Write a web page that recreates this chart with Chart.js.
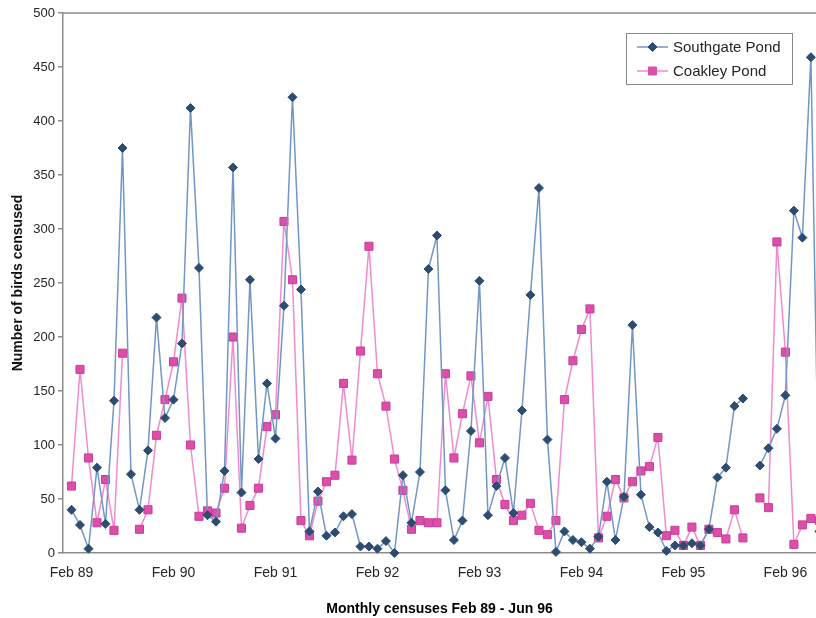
<!DOCTYPE html>
<html>
<head>
<meta charset="utf-8">
<title>Monthly censuses Feb 89 - Jun 96</title>
<script src="https://cdn.jsdelivr.net/npm/chart.js@4.4.0/dist/chart.umd.min.js"></script>
<style>
  html, body { margin: 0; padding: 0; background: #fff; overflow: hidden; }
  #wrap { width: 816px; height: 618px; position: relative; }
</style>
</head>
<body>
<div id="wrap"><canvas id="birdChart"></canvas></div>
<script>
// monthly counts, Feb 89 .. Jun 96 (index 0 = Feb 89), null = no census
const southgate = [
  40, 26, 4, 79, 27, 141, 375, 73, 40, 95, 218, 125,      // Feb 89 - Jan 90
  142, 194, 412, 264, 35, 29, 76, 357, 56, 253, 87, 157,  // Feb 90 - Jan 91
  106, 229, 422, 244, 20, 57, 16, 19, 34, 36, 6, 6,       // Feb 91 - Jan 92
  4, 11, 0, 72, 28, 75, 263, 294, 58, 12, 30, 113,        // Feb 92 - Jan 93
  252, 35, 62, 88, 37, 132, 239, 338, 105, 1, 20, 12,     // Feb 93 - Jan 94
  10, 4, 15, 66, 12, 52, 211, 54, 24, 19, 2, 7,           // Feb 94 - Jan 95
  7, 9, 7, 22, 70, 79, 136, 143, null, 81, 97, 115,       // Feb 95 - Jan 96
  146, 317, 292, 459, 20                                  // Feb 96 - Jun 96
];
const coakley = [
  62, 170, 88, 28, 68, 21, 185, null, 22, 40, 109, 142,
  177, 236, 100, 34, 39, 37, 60, 200, 23, 44, 60, 117,
  128, 307, 253, 30, 16, 48, 66, 72, 157, 86, 187, 284,
  166, 136, 87, 58, 22, 30, 28, 28, 166, 88, 129, 164,
  102, 145, 68, 45, 30, 35, 46, 21, 17, 30, 142, 178,
  207, 226, 14, 34, 68, 51, 66, 76, 80, 107, 16, 21,
  7, 24, 7, 22, 19, 13, 40, 14, null, 51, 42, 288,
  186, 8, 26, 32, 30
];
const seriesNames = ["Southgate Pond", "Coakley Pond"];
const tickPositions = [0, 12, 24, 36, 48, 60, 72, 84];
const tickLabels = ["Feb 89", "Feb 90", "Feb 91", "Feb 92", "Feb 93", "Feb 94", "Feb 95", "Feb 96"];

const AXIS = "#8c8c8c";
const TEXT = "#262626";
const BLUE_LINE = "#7396c4", BLUE_PT = "#2d4c70";
const PINK_LINE = "#f28ad0", PINK_PT = "#db4fab";

function toPoints(values) {
  return values.map((v, i) => ({ x: i, y: v }));
}

function marker(ctx, shape, x, y, fill, stroke) {
  ctx.beginPath();
  if (shape === "diamond") {
    ctx.moveTo(x - 4.5, y); ctx.lineTo(x, y - 4.5);
    ctx.lineTo(x + 4.5, y); ctx.lineTo(x, y + 4.5);
    ctx.closePath();
  } else {
    ctx.rect(x - 4, y - 4, 8, 8);
  }
  ctx.fillStyle = fill; ctx.fill();
  ctx.strokeStyle = stroke; ctx.lineWidth = 1; ctx.stroke();
}

// top border of the plot area + the boxed legend inside it
const framePlugin = {
  id: "frame",
  afterDraw(chart) {
    const { ctx, chartArea: a } = chart;
    ctx.save();
    ctx.strokeStyle = AXIS; ctx.lineWidth = 1.5;
    ctx.beginPath(); ctx.moveTo(a.left, a.top); ctx.lineTo(a.right, a.top); ctx.stroke();

    const bx = 626, by = 33, bw = 166, bh = 51;
    ctx.fillStyle = "#fff"; ctx.fillRect(bx, by, bw, bh);
    ctx.strokeStyle = "#888"; ctx.lineWidth = 1; ctx.strokeRect(bx + 0.5, by + 0.5, bw, bh);

    const rows = [
      { name: seriesNames[0], y: 47, line: BLUE_LINE, pt: BLUE_PT, shape: "diamond" },
      { name: seriesNames[1], y: 71, line: PINK_LINE, pt: PINK_PT, shape: "square" },
    ];
    rows.forEach((r) => {
      ctx.strokeStyle = r.line; ctx.lineWidth = 1.5;
      ctx.beginPath(); ctx.moveTo(637, r.y); ctx.lineTo(668, r.y); ctx.stroke();
      marker(ctx, r.shape, 652.5, r.y, r.pt, r.pt);
      ctx.fillStyle = TEXT;
      ctx.font = "15px 'Liberation Sans', Arial, sans-serif";
      ctx.textBaseline = "middle"; ctx.textAlign = "left";
      ctx.fillText(r.name, 673, r.y + 1);
    });
    ctx.restore();
  },
};

new Chart(document.getElementById("birdChart").getContext("2d"), {
  type: "line",
  data: {
    datasets: [
      {
        label: seriesNames[0],
        data: toPoints(southgate),
        borderColor: BLUE_LINE,
        borderWidth: 1.5,
        pointStyle: "rectRot",
        pointRadius: 4.5,
        pointBackgroundColor: BLUE_PT,
        pointBorderColor: BLUE_PT,
        pointBorderWidth: 1,
        spanGaps: false,
        tension: 0,
        clip: { left: 0, right: 0, top: 8, bottom: 8 },
      },
      {
        label: seriesNames[1],
        data: toPoints(coakley),
        borderColor: PINK_LINE,
        borderWidth: 1.5,
        pointStyle: "rect",
        pointRadius: 5.7,
        pointBackgroundColor: PINK_PT,
        pointBorderColor: "#c93d98",
        pointBorderWidth: 1,
        spanGaps: false,
        tension: 0,
        clip: { left: 0, right: 0, top: 8, bottom: 8 },
      },
    ],
  },
  options: {
    responsive: true,
    maintainAspectRatio: false,
    animation: false,
    layout: { autoPadding: false, padding: { top: 13, left: 0, right: 0, bottom: 0 } },
    plugins: {
      legend: { display: false },
      tooltip: { enabled: false },
    },
    scales: {
      x: {
        type: "linear",
        min: -1,
        max: 87.6,
        afterBuildTicks: (s) => { s.ticks = tickPositions.map((v) => ({ value: v })); },
        afterFit: (s) => {
          s.height = 65;
          // plot runs right up to the edge of the picture
          s.paddingLeft = 0;
          s.paddingRight = 0;
        },
        ticks: {
          callback: (v, i) => tickLabels[i],
          autoSkip: false,
          maxRotation: 0,
          padding: 12,
          color: TEXT,
          font: { family: "'Liberation Sans', Arial, sans-serif", size: 14 },
        },
        grid: { display: false, drawTicks: false },
        border: { display: true, color: AXIS, width: 1.5 },
        title: {
          display: true,
          text: "Monthly censuses Feb 89 - Jun 96",
          color: "#000",
          padding: { top: 3, bottom: 0 },
          font: { family: "'Liberation Sans', Arial, sans-serif", size: 14, weight: "bold" },
        },
      },
      y: {
        min: 0,
        max: 500,
        afterFit: (s) => { s.width = 63; },
        ticks: {
          stepSize: 50,
          padding: 3,
          color: TEXT,
          font: { family: "'Liberation Sans', Arial, sans-serif", size: 13 },
        },
        grid: { drawOnChartArea: false, tickLength: 5, color: AXIS, lineWidth: 1.5 },
        border: { display: true, color: AXIS, width: 1.5 },
        title: {
          display: true,
          text: "Number of birds censused",
          color: "#111",
          padding: { top: 10, bottom: 0 },
          font: { family: "'Liberation Sans', Arial, sans-serif", size: 14, weight: "bold" },
        },
      },
    },
  },
  plugins: [framePlugin],
});
</script>
</body>
</html>
